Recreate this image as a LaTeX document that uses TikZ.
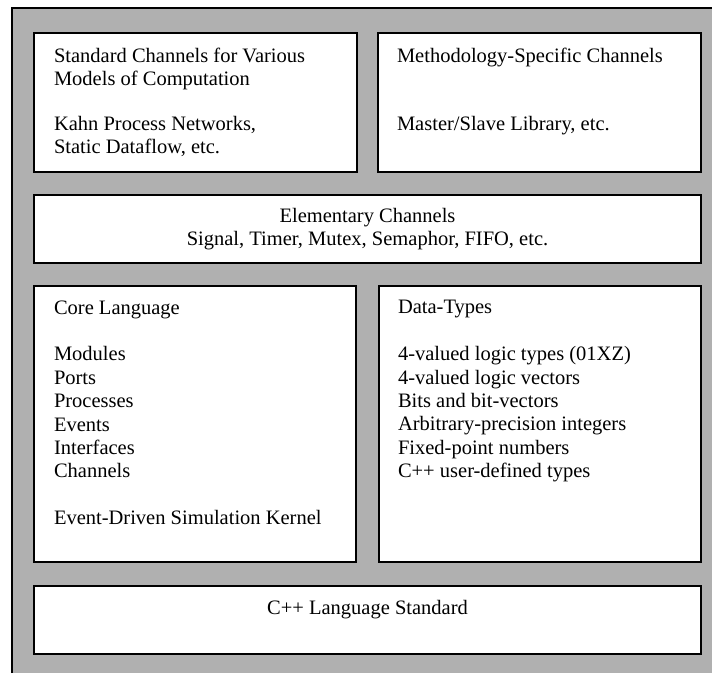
\documentclass[tikz,border=0pt]{standalone}
\usepackage{fontspec}
\setmainfont{Liberation Serif}
\definecolor{bggray}{gray}{0.69}
\begin{document}
\begin{tikzpicture}[x=1pt,y=-1pt,
  layer/.style={draw=black, fill=white, line width=2.4pt, inner sep=0pt, rectangle},
  toptxt/.style={inner sep=0pt, anchor=north west, align=left,
    font=\fontsize{20.5}{22.7}\selectfont},
  lowtxt/.style={inner sep=0pt, anchor=north west, align=left,
    font=\fontsize{20.5}{23.4}\selectfont},
  midtxt/.style={inner sep=0pt, anchor=north, align=center,
    font=\fontsize{20.5}{23}\selectfont}]
  \useasboundingbox (0,0) rectangle (712,673);
  % shaded backdrop with its frame on the left and top
  \fill[bggray] (12,8) rectangle (712,673);
  \draw[line width=2pt] (12,673) -- (12,8) -- (712,8);

  % layers
  \node[layer, minimum width=323pt, minimum height=139pt] (moc)   at (195.5,102.5) {};
  \node[layer, minimum width=323pt, minimum height=139pt] (meth)  at (539.5,102.5) {};
  \node[layer, minimum width=667pt, minimum height=68pt]  (elem)  at (367.5,229)   {};
  \node[layer, minimum width=322pt, minimum height=276pt] (core)  at (195,424)     {};
  \node[layer, minimum width=322pt, minimum height=276pt] (dtype) at (540,424)     {};
  \node[layer, minimum width=667pt, minimum height=68pt]  (cpp)   at (367.5,620)   {};

  % texts
  \node[toptxt] (mocT) at ([xshift=21pt,yshift=-16pt]moc.north west)
    {Standard Channels for Various\\ Models of Computation\\[22.7pt]
     Kahn Process Networks,\\ Static Dataflow, etc.};
  \node[toptxt] (methT) at ([xshift=20pt,yshift=-16pt]meth.north west)
    {Methodology-Specific Channels\\[45.4pt] Master/Slave Library, etc.};
  \node[midtxt] (elemT) at ([yshift=-14.5pt]elem.north)
    {Elementary Channels\\ Signal, Timer, Mutex, Semaphor, FIFO, etc.};
  \node[lowtxt] (coreT) at ([xshift=21pt,yshift=-15.5pt]core.north west)
    {Core Language\\[23.4pt] Modules\\ Ports\\ Processes\\ Events\\ Interfaces\\ Channels\\[23.4pt]
     Event-Driven Simulation Kernel};
  \node[lowtxt] (dtypeT) at ([xshift=20pt,yshift=-15.5pt]dtype.north west)
    {Data-Types\\[23.4pt] 4-valued logic types (01XZ)\\ 4-valued logic vectors\\
     Bits and bit-vectors\\ Arbitrary-precision integers\\ Fixed-point numbers\\
     C++ user-defined types};
  \node[midtxt] (cppT) at ([yshift=-15.5pt]cpp.north) {C++ Language Standard};
\end{tikzpicture}
\end{document}
